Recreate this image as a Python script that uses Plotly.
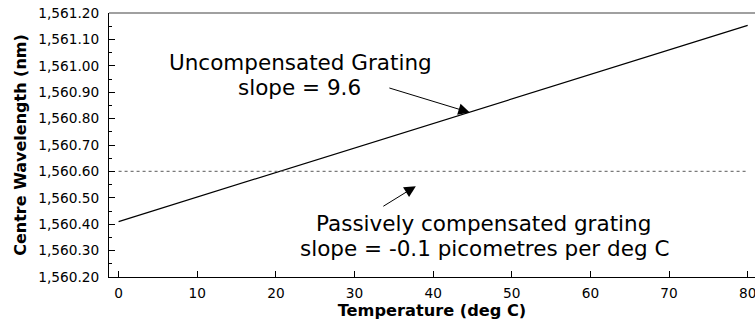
import plotly.graph_objects as go

# Data
temperature = [0, 80]
uncompensated_nm = [1560.41, 1561.153]
compensated_nm = [1560.60, 1560.60]

x_ticks = [0, 10, 20, 30, 40, 50, 60, 70, 80]
y_ticks = [1560.20, 1560.30, 1560.40, 1560.50, 1560.60, 1560.70,
           1560.80, 1560.90, 1561.00, 1561.10, 1561.20]

label_unc = ["Uncompensated Grating", "slope = 9.6"]
label_comp = ["Passively compensated grating", "slope = -0.1 picometres per deg C"]

FONT = "DejaVu Sans"

fig = go.Figure()
fig.add_trace(go.Scatter(x=temperature, y=uncompensated_nm, mode="lines",
                         line=dict(color="black", width=1.2), showlegend=False,
                         hoverinfo="skip"))
fig.add_trace(go.Scatter(x=temperature, y=compensated_nm, mode="lines",
                         line=dict(color="#7a7a7a", width=1.3, dash="dot"),
                         showlegend=False, hoverinfo="skip"))

ann_font = dict(family=FONT, size=21.5, color="black")
annotations = [
    dict(x=23.11, y=1561.013, text=label_unc[0]),
    dict(x=23.04, y=1560.919, text=label_unc[1]),
    dict(x=46.39, y=1560.402, text=label_comp[0]),
    dict(x=46.58, y=1560.308, text=label_comp[1]),
]
for a in annotations:
    fig.add_annotation(x=a["x"], y=a["y"], xref="x", yref="y", text=a["text"],
                       showarrow=False, font=ann_font,
                       xanchor="center", yanchor="middle")

# arrows
fig.add_annotation(x=44.67, y=1560.823, xref="x", yref="y", text="",
                   showarrow=True, ax=-82, ay=-25, arrowhead=2, arrowsize=2.3,
                   arrowwidth=1, arrowcolor="black", standoff=0)
fig.add_annotation(x=37.8, y=1560.544, xref="x", yref="y", text="",
                   showarrow=True, ax=-34, ay=21, arrowhead=2, arrowsize=2.3,
                   arrowwidth=1, arrowcolor="black", standoff=0)

# gray top border of the plot frame
fig.add_shape(type="line", xref="paper", yref="paper", x0=0, x1=1, y0=1, y1=1,
              line=dict(color="#808080", width=1.5))

fig.update_layout(
    width=755, height=327,
    margin=dict(l=109, r=0, t=13, b=50),
    paper_bgcolor="white", plot_bgcolor="white",
    font=dict(family=FONT, size=13.7, color="black"),
    xaxis=dict(
        range=[-1.22, 80.93], tickvals=x_ticks, ticktext=[str(v) for v in x_ticks],
        ticks="inside", ticklen=6, tickcolor="black", tickwidth=1,
        showline=True, linecolor="black", linewidth=1.2,
        showgrid=False, zeroline=False, ticklabeloverflow="allow",
        ticklabelstandoff=3, automargin=False,
        title=dict(text="Temperature (deg C)", standoff=5,
                   font=dict(family=FONT, size=16.2, weight="bold", color="black")),
    ),
    yaxis=dict(
        range=[1560.20, 1561.20], tickvals=y_ticks, tickformat=",.2f",
        ticks="inside", ticklen=6, tickcolor="black", tickwidth=1,
        minor=dict(ticks="inside", ticklen=3, dtick=0.05, tick0=1560.2,
                   tickcolor="black", tickwidth=1),
        showline=True, linecolor="black", linewidth=1.2,
        showgrid=False, zeroline=False, ticklabelstandoff=6, automargin=False,
        ticklabeloverflow="allow",
        title=dict(text="Centre Wavelength (nm)", standoff=7,
                   font=dict(family=FONT, size=16, weight="bold", color="black")),
    ),
)

fig.write_html("out.html",
               config={"displayModeBar": False},
               post_script="document.body.style.margin='0';"
                           "document.body.style.overflow='hidden';")
